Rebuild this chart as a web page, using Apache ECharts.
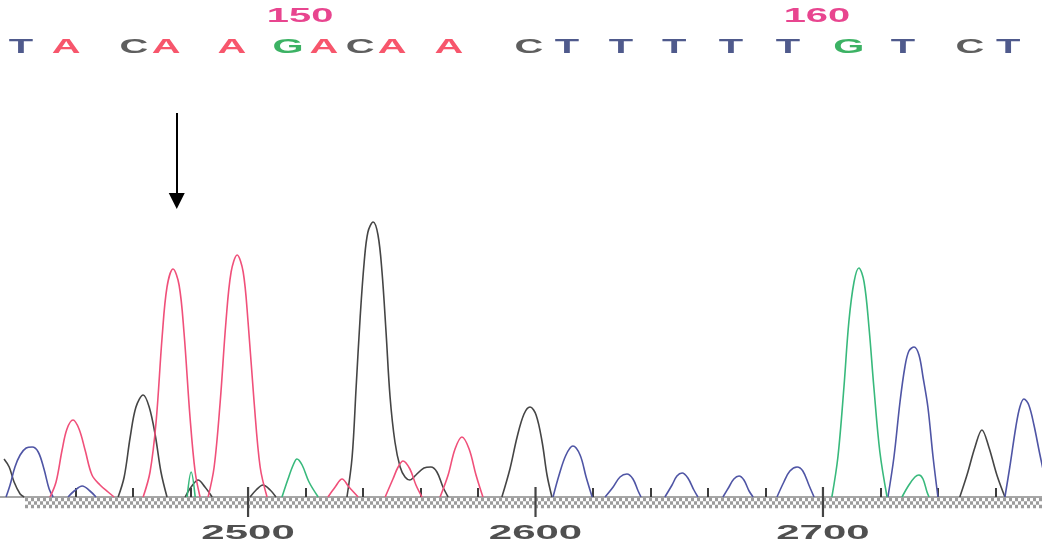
<!DOCTYPE html>
<html><head><meta charset="utf-8">
<script src="https://cdn.jsdelivr.net/npm/echarts@6/dist/echarts.min.js"></script>
<style>html,body{margin:0;background:#fff}#c{width:1042px;height:552px}</style>
</head><body><div id="c"></div>
<script>
// ---- data ----
const baseCalls = ['T','A','C','A','A','G','A','C','A','A','C','T','T','T','T','T','G','T','C','T'];
const basePositions = [2421.0,2436.7,2460.3,2471.5,2494.4,2513.9,2526.4,2539.0,2550.1,2569.9,2597.7,2610.9,2629.7,2648.2,2668.0,2687.8,2709.0,2727.8,2751.1,2764.4];
const baseNumbers = ['150','160'];
const baseNumberPositions = [2518.1,2697.9];
const scanTickValues = [2500,2600,2700];
const scanTickLabels = ['2500','2600','2700'];
const minorTickValues = [2440,2460,2480,2520,2540,2560,2580,2620,2640,2660,2680,2720,2740,2760];
const arrowX = 2475.2;
const arrowFrom = 384, arrowTo = 296;

// traces: each channel is a list of peaks, each peak a list of [scan, intensity]
const traceA = [
  [[2431.1,0],[2433.2,15],[2435.3,47],[2437.0,68],[2439.1,77],[2441.2,68],[2443.3,47],[2445.7,22],[2448.5,12],[2451.3,5],[2453.4,0]],
  [[2463.5,0],[2465.9,25],[2468.0,75],[2470.1,160],[2471.8,210],[2473.9,228],[2476.0,212],[2477.7,165],[2479.8,80],[2481.6,25],[2483.3,0]],
  [[2486.1,0],[2488.2,30],[2490.3,95],[2492.3,175],[2494.1,225],[2496.2,242],[2498.3,225],[2500.0,175],[2502.1,95],[2504.2,30],[2506.6,0]],
  [[2527.8,0],[2530.3,10],[2532.7,18],[2535.1,10],[2538.3,0]],
  [[2547.7,0],[2550.4,18],[2552.2,30],[2553.9,36],[2556.3,28],[2558.4,12],[2560.5,0]],
  [[2566.8,0],[2569.6,22],[2572.0,48],[2574.4,60],[2576.9,48],[2579.3,22],[2581.7,0]]
];
const traceC = [
  [[2415.1,38],[2416.9,30],[2418.6,15],[2420.7,3],[2422.1,0]],
  [[2454.8,0],[2456.9,20],[2459.0,60],[2461.0,90],[2463.5,102],[2465.6,90],[2467.7,62],[2469.7,25],[2471.8,0]],
  [[2478.1,0],[2480.2,10],[2482.6,17],[2485.0,10],[2487.5,0]],
  [[2500.7,0],[2502.8,7],[2505.2,12],[2507.7,7],[2509.7,0]],
  [[2534.4,0],[2536.2,40],[2537.6,110],[2539.0,180],[2540.4,235],[2541.7,265],[2543.5,275],[2545.2,262],[2546.6,225],[2548.0,165],[2549.4,100],[2551.1,55],[2552.9,30],[2554.6,20],[2556.3,17],[2558.4,22],[2561.2,29],[2563.6,30],[2565.7,25],[2567.8,10],[2569.6,0]],
  [[2588.3,0],[2591.1,28],[2593.6,60],[2596.0,83],[2598.1,90],[2600.2,82],[2602.3,55],[2604.0,22],[2605.7,0]],
  [[2747.6,0],[2750.1,22],[2752.9,50],[2755.3,67],[2757.7,50],[2760.5,22],[2763.3,0]]
];
const traceG = [
  [[2478.8,0],[2480.2,25],[2481.6,0]],
  [[2511.8,0],[2513.9,18],[2515.7,32],[2517.0,38],[2518.8,32],[2521.2,15],[2524.4,0]],
  [[2703.1,0],[2705.2,40],[2707.3,110],[2709.0,175],[2710.8,215],[2712.5,229],[2714.3,215],[2716.0,170],[2717.7,110],[2719.8,45],[2722.3,0]],
  [[2727.5,0],[2729.9,12],[2732.0,20],[2733.4,22],[2734.8,18],[2736.2,5],[2736.9,0]]
];
const traceT = [
  [[2415.8,0],[2417.2,12],[2418.9,30],[2420.7,42],[2422.8,49],[2424.9,50],[2427.0,45],[2429.0,28],[2430.8,8],[2432.2,0]],
  [[2437.4,0],[2439.5,6],[2442.3,11],[2445.0,6],[2447.1,0]],
  [[2606.1,0],[2608.2,22],[2610.6,42],[2613.0,51],[2615.5,42],[2617.6,20],[2619.7,0]],
  [[2624.2,0],[2627.0,10],[2629.4,20],[2631.8,23],[2633.9,18],[2635.7,6],[2636.7,0]],
  [[2645.0,0],[2647.5,12],[2649.2,21],[2651.0,24],[2653.0,19],[2655.1,7],[2656.5,0]],
  [[2665.2,0],[2667.3,10],[2669.0,18],[2670.8,21],[2672.5,17],[2674.3,6],[2675.7,0]],
  [[2684.0,0],[2686.4,15],[2688.5,26],[2691.0,30],[2693.0,26],[2695.1,12],[2696.9,0]],
  [[2722.6,0],[2724.7,40],[2726.8,95],[2728.5,130],[2729.9,146],[2731.7,150],[2733.4,142],[2734.8,120],[2736.5,90],[2738.3,40],[2740.0,0]],
  [[2763.3,0],[2765.0,30],[2767.1,70],[2768.5,90],[2769.9,98],[2771.6,92],[2773.4,72],[2775.5,42],[2777.6,15],[2779.5,0]]
];

// ---- build ----
const XMIN = 2413.7, XMAX = 2776.2;
const colors = {A:'#f0507a', C:'#454545', G:'#38b97c', T:'#4f55a5'};
const letterColors = {A:'#f7566c', C:'#5e5e5e', G:'#3cb264', T:'#4f5a8c'};
function joinPeaks(peaks){
  const out = [];
  peaks.forEach((p,i)=>{ if(i) out.push([p[0][0]-0.01,'-']); p.forEach(pt=>out.push(pt)); });
  return out;
}
function trace(name, peaks){
  return {type:'line', name, data: joinPeaks(peaks), showSymbol:false, smooth:0.35, connectNulls:false,
    lineStyle:{color:colors[name], width:1.6}, z:3, silent:true};
}
function hatchRow(y, offset){
  return {type:'line', data:[[2422.4,y],[XMAX,y]], showSymbol:false, silent:true, z:1,
    lineStyle:{color:'#9c9c9c', width:3.5, type:[3,3], dashOffset:offset}};
}
const chart = echarts.init(document.getElementById('c'), null, {renderer:'canvas'});
chart.setOption({
  animation:false,
  backgroundColor:'#ffffff',
  grid:{left:0,right:0,top:0,bottom:0},
  xAxis:{type:'value', min:XMIN, max:XMAX,
    axisLine:{show:true,onZero:true,lineStyle:{color:'#8a8a8a',width:1.5}},
    axisTick:{show:true,inside:true,length:9,customValues:minorTickValues,lineStyle:{color:'#3c3c3c',width:2}},
    axisLabel:{show:false}, splitLine:{show:false}},
  yAxis:{type:'value', min:-55, max:497, show:false, splitLine:{show:false}},
  series:[
    hatchRow(-2.5, 0),
    hatchRow(-6, 3),
    hatchRow(-9.5, 0),
    trace('C', traceC),
    trace('T', traceT),
    trace('G', traceG),
    trace('A', traceA),
    {type:'custom', silent:true, z:5,
      data: basePositions.map(x=>[x,450]),
      renderItem:(params, api)=>{
        const p = api.coord([api.value(0), api.value(1)]);
        const ch = baseCalls[params.dataIndex];
        return {type:'text', x:p[0], y:p[1], scaleX:1.9,
          style:{text:ch, fill:letterColors[ch], fontSize:21, fontWeight:'bold', fontFamily:'Liberation Sans', align:'center', verticalAlign:'middle'}};
      }},
    {type:'custom', silent:true, z:5,
      data: baseNumberPositions.map(x=>[x,481]),
      renderItem:(params, api)=>{
        const p = api.coord([api.value(0), api.value(1)]);
        return {type:'text', x:p[0], y:p[1], scaleX:1.9,
          style:{text:baseNumbers[params.dataIndex], fill:'#e8458f', fontSize:21, fontWeight:'bold', fontFamily:'Liberation Sans', align:'center', verticalAlign:'middle'}};
      }},
    {type:'custom', silent:true, z:6,
      data: scanTickValues.map(x=>[x,0]),
      renderItem:(params, api)=>{
        const top = api.coord([api.value(0), 10]);
        const bot = api.coord([api.value(0), -20]);
        const lab = api.coord([api.value(0), -36]);
        return {type:'group', children:[
          {type:'line', shape:{x1:top[0],y1:top[1],x2:bot[0],y2:bot[1]}, style:{stroke:'#444', lineWidth:2.2}},
          {type:'text', x:lab[0], y:lab[1], scaleX:2.0,
            style:{text:scanTickLabels[params.dataIndex], fill:'#505050', fontSize:21, fontWeight:'bold', fontFamily:'Liberation Sans', align:'center', verticalAlign:'middle'}}
        ]};
      }},
    {type:'line', data:[], silent:true, z:7,
      markLine:{silent:true, symbol:['none','triangle'], symbolSize:[16,16], label:{show:false},
        lineStyle:{color:'#000', width:2, type:'solid'},
        data:[[{coord:[arrowX,arrowFrom]},{coord:[arrowX,arrowTo]}]]}}
  ]
});
</script></body></html>
